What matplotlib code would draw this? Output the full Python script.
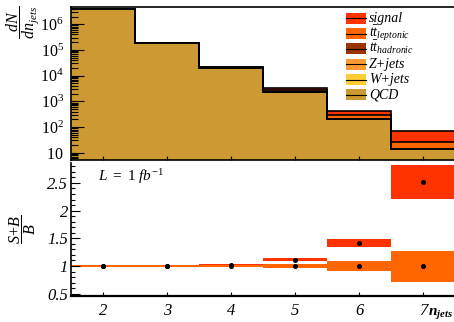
import numpy as np
import matplotlib
matplotlib.use('Agg')
import matplotlib.pyplot as plt
from matplotlib.patches import Rectangle
from matplotlib.lines import Line2D
from matplotlib.ticker import FixedLocator, FuncFormatter, MultipleLocator, LogLocator, NullFormatter

plt.rcParams['font.family'] = ['Liberation Serif', 'DejaVu Serif']
plt.rcParams['mathtext.fontset'] = 'custom'
plt.rcParams['mathtext.rm'] = 'Liberation Serif'
plt.rcParams['mathtext.it'] = 'Liberation Serif:italic'
plt.rcParams['mathtext.bf'] = 'Liberation Serif:bold'
plt.rcParams['mathtext.bfit'] = 'Liberation Serif:italic:bold'

# ---------------- data ----------------
njets = [2, 3, 4, 5, 6, 7]
qcd = [3.9e6, 1.85e5, 2.0e4, 2.35e3, 205, 14]
wjets = [0, 0, 0, 0, 0, 0]
zjets = [0, 0, 0, 0, 0, 0]
tthad = [0, 0, 0, 0, 0, 0]
ttlep = [800, 1500, 1300, 500, 90, 13]
signal = [50, 200, 430, 330, 124, 41]
b_err = [0.01, 0.01, 0.017, 0.035, 0.087, 0.28]
sb_err = [0.01, 0.01, 0.012, 0.028, 0.07, 0.31]

legend_labels = ['signal', r'$t\bar{t}_{leptonic}$', r'$t\bar{t}_{hadronic}$',
                 'Z+jets', 'W+jets', 'QCD']
legend_colors = ['#FF3300', '#FF6600', '#993300', '#FF9933', '#FFCC33', '#CC9933']
# stack order bottom -> top
stack_vals = [qcd, wjets, zjets, tthad, ttlep, signal]
stack_cols = ['#CC9933', '#FFCC33', '#FF9933', '#993300', '#FF6600', '#FF3300']
lumi_text = r'$\mathit{L\ =\ 1\ fb^{-1}}$'

W, H = 454, 322
fig = plt.figure(figsize=(W / 100, H / 100), dpi=100)

def fx(px):
    return px / W

def fy(py):
    return 1 - py / H

x = np.array(njets, dtype=float)
edges = np.append(x - 0.5, x[-1] + 0.5)

# ---------------- top panel ----------------
ax1 = fig.add_axes([fx(70.7), fy(160), fx(455.4) - fx(70.7), 153 / H])
bottom = np.ones(len(x))
tops = []
cum = np.zeros(len(x))
for vals, col in zip(stack_vals, stack_cols):
    cum = cum + np.array(vals, dtype=float)
    base = np.maximum(bottom, 1.0)
    top = np.maximum(cum, 1.0)
    ax1.stairs(top, edges, baseline=base, fill=True, color=col, lw=0)
    tops.append(top.copy())
    bottom = top
for top in tops:
    ax1.stairs(top, edges, baseline=None, color='black', lw=1.2)

ax1.set_yscale('log')
ax1.set_xlim(1.5, 7.5)
ax1.set_ylim(5.2, 4.7e6)
ax1.xaxis.set_major_locator(FixedLocator(njets))
ax1.tick_params(axis='x', which='both', direction='in', length=3, width=0.8,
                labelbottom=False, top=False)
ax1.yaxis.set_major_locator(FixedLocator([1e1, 1e2, 1e3, 1e4, 1e5, 1e6]))
ax1.yaxis.set_minor_locator(LogLocator(base=10, subs=np.arange(2, 10), numticks=20))
ax1.yaxis.set_minor_formatter(NullFormatter())

def logfmt(v, pos):
    e = int(round(np.log10(v)))
    if e == 1:
        return r'$\mathit{10}$'
    return r'$\mathit{10^{%d}}$' % e

ax1.yaxis.set_major_formatter(FuncFormatter(logfmt))
ax1.tick_params(axis='y', which='major', direction='in', length=9.5, width=0.8,
                labelsize=11.5, pad=5, right=False)
ax1.tick_params(axis='y', which='minor', direction='in', length=4.7, width=0.8, right=False)
for s in ['left', 'top', 'bottom']:
    ax1.spines[s].set_linewidth(1.2)
ax1.spines['right'].set_visible(False)

# legend (drawn manually)
box_x0, box_x1 = 346, 365.7
ys = [18.3, 33.6, 48.9, 64.2, 79.5, 94.8]
for yc, lab, col in zip(ys, legend_labels, legend_colors):
    fig.patches.append(Rectangle((fx(box_x0), fy(yc + 5.5)), fx(box_x1) - fx(box_x0), 11 / H,
                                 transform=fig.transFigure, facecolor=col, edgecolor='none'))
    fig.lines.append(Line2D([fx(box_x0), fx(box_x1)], [fy(yc), fy(yc)],
                            transform=fig.transFigure, color='black', lw=0.8))
    fig.text(fx(369), fy(yc + 3.5), lab, fontsize=10, style='italic', va='baseline', ha='left')

fig.text(fx(23), fy(22), r'$\dfrac{dN}{dn_{jets}}$', rotation=90, fontsize=11.5,
         ha='center', va='center')

# ---------------- bottom panel ----------------
ax2 = fig.add_axes([fx(70.7), fy(295.7), fx(455.4) - fx(70.7), 132.7 / H])
tot = np.zeros(len(x))
for vals in stack_vals:
    tot = tot + np.array(vals, dtype=float)
bkg = tot - np.array(signal, dtype=float)
ratio = tot / bkg
ones = np.ones(len(x))
ax2.bar(x, 2 * np.array(sb_err), bottom=ratio - np.array(sb_err), width=1.0,
        color='#FF3300', lw=0)
ax2.bar(x, 2 * np.array(b_err), bottom=ones - np.array(b_err), width=1.0,
        color='#FF6600', lw=0)
ax2.plot(x, ratio, 'o', color='black', ms=2.6, ls='none')
ax2.plot(x, ones, 'o', color='black', ms=2.6, ls='none')

ax2.set_xlim(1.5, 7.5)
ax2.set_ylim(0.464, 2.86)
ax2.xaxis.set_major_locator(FixedLocator(njets))
ax2.yaxis.set_major_locator(FixedLocator([0.5, 1.0, 1.5, 2.0, 2.5]))
ax2.yaxis.set_minor_locator(MultipleLocator(0.1))
ax2.yaxis.set_major_formatter(FuncFormatter(lambda v, p: ('%g' % v)))
ax2.tick_params(axis='x', which='major', direction='in', length=3, width=0.8,
                labelsize=12, pad=5, top=False)
ax2.tick_params(axis='y', which='major', direction='in', length=6.5, width=0.8,
                labelsize=12, pad=2, right=False)
ax2.tick_params(axis='y', which='minor', direction='in', length=3.2, width=0.8, right=False)
for lab in ax2.get_xticklabels() + ax2.get_yticklabels():
    lab.set_fontstyle('italic')
ax2.spines['top'].set_visible(False)
ax2.spines['right'].set_visible(False)
ax2.spines['left'].set_linewidth(1.2)
ax2.spines['bottom'].set_linewidth(1.6)

fig.text(fx(98), fy(177), lumi_text, fontsize=11, ha='left', va='center')
fig.text(fx(23), fy(229), r'$\dfrac{S\!+\!B}{B}$', rotation=90, fontsize=11.5,
         ha='center', va='center')
fig.text(fx(428), fy(315), r'$\mathbfit{n}_{\mathbfit{jets}}$', fontsize=11,
         ha='left', va='baseline')

fig.savefig('out.png', dpi=100)
